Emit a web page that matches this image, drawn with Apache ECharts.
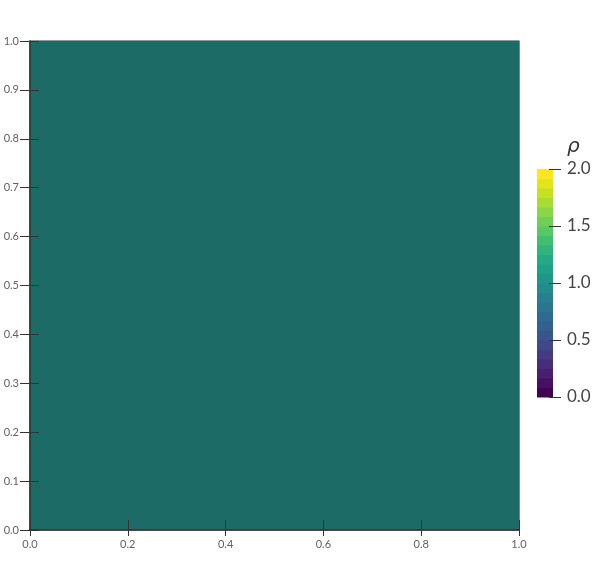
<!DOCTYPE html>
<html>
<head>
<meta charset="utf-8">
<script src="https://cdn.jsdelivr.net/npm/echarts@6/dist/echarts.min.js"></script>
<style>
    html, body { margin: 0; padding: 0; background: #fff; }
    #chart { width: 600px; height: 570px; }
</style>
</head>
<body>
<div id="chart"></div>
<script>
    // field: one uniform cell covering the unit square, rho = 1.0
    var cellX = [0, 1];
    var cellY = [0, 1];
    var cellRho = [1.0];

    // axis ticks
    var xTicks = [0, 0.2, 0.4, 0.6, 0.8, 1.0];
    var yTicks = [0, 0.1, 0.2, 0.3, 0.4, 0.5, 0.6, 0.7, 0.8, 0.9, 1.0];
    var barTicks = [0, 0.5, 1.0, 1.5, 2.0];

    // colour bar range and number of discrete bands
    var rhoRange = [0, 2];
    var rhoBands = 24;

    // viridis key colours
    var viridis = ['#440154', '#471365', '#482475', '#463480', '#414487', '#3b528b', '#355f8d',
        '#2f6c8e', '#2a788e', '#25848e', '#21918c', '#1e9c89', '#22a884', '#2fb47c', '#44bf70',
        '#5ec962', '#7ad151', '#9bd93c', '#bddf26', '#dfe318', '#fde725'];

    function hexRgb(h) {
        return [parseInt(h.substr(1, 2), 16), parseInt(h.substr(3, 2), 16), parseInt(h.substr(5, 2), 16)];
    }
    function viridisAt(t) {
        var p = t * (viridis.length - 1);
        var i = Math.min(Math.floor(p), viridis.length - 2);
        var f = p - i;
        var a = hexRgb(viridis[i]), b = hexRgb(viridis[i + 1]);
        var c = a.map(function (v, k) { return Math.round(v + (b[k] - v) * f); });
        return 'rgb(' + c.join(',') + ')';
    }

    var bands = [];
    for (var i = 0; i < rhoBands; i++) {
        var lo = rhoRange[0] + (rhoRange[1] - rhoRange[0]) * i / rhoBands;
        var hi = rhoRange[0] + (rhoRange[1] - rhoRange[0]) * (i + 1) / rhoBands;
        bands.push([lo, hi, i / (rhoBands - 1)]);
    }

    var fieldData = [[cellX[0], cellX[1], cellY[0], cellY[1], cellRho[0]]];

    var chart = echarts.init(document.getElementById('chart'));
    var labelFont = { color: '#606060', fontSize: 11, fontFamily: 'Lato' };
    var tickStyle = { color: '#333', width: 1 };

    var option = {
        animation: false,
        grid: [
            { left: 30, top: 41, width: 489, height: 489, show: true, borderColor: '#333', borderWidth: 1.2 },
            { left: 537, top: 169, width: 16, height: 228 }
        ],
        xAxis: [
            {
                gridIndex: 0, type: 'value', min: 0, max: 1, interval: 0.2, z: 5,
                axisLine: { show: true, onZero: false, lineStyle: { color: '#333', width: 1.5 } },
                axisTick: { show: true, inside: false, length: 6, lineStyle: tickStyle },
                axisLabel: Object.assign({ margin: 9, formatter: function (v) { return v.toFixed(1); } }, labelFont),
                splitLine: { show: false }
            },
            {
                gridIndex: 0, type: 'value', min: 0, max: 1, interval: 0.2, position: 'bottom', z: 5,
                axisLine: { show: false, onZero: false },
                axisTick: { show: true, inside: true, length: 10, lineStyle: tickStyle },
                axisLabel: { show: false }, splitLine: { show: false }
            },
            { gridIndex: 1, type: 'value', min: 0, max: 1, show: false }
        ],
        yAxis: [
            {
                gridIndex: 0, type: 'value', min: 0, max: 1, interval: 0.1, z: 5,
                axisLine: { show: true, onZero: false, lineStyle: { color: '#333', width: 1.5 } },
                axisTick: { show: true, inside: false, length: 10, lineStyle: tickStyle },
                axisLabel: Object.assign({ margin: 11, formatter: function (v) { return v.toFixed(1); } }, labelFont),
                splitLine: { show: false }
            },
            {
                gridIndex: 0, type: 'value', min: 0, max: 1, interval: 0.1, position: 'left', z: 5,
                axisLine: { show: false, onZero: false },
                axisTick: { show: true, inside: true, length: 9, lineStyle: tickStyle },
                axisLabel: { show: false }, splitLine: { show: false }
            },
            {
                gridIndex: 1, type: 'value', min: rhoRange[0], max: rhoRange[1], interval: 0.5, position: 'right', z: 5,
                name: 'ρ', nameLocation: 'end', nameGap: 12,
                nameTextStyle: { color: '#333', fontSize: 20, fontStyle: 'italic', fontFamily: 'DejaVu Sans', align: 'left', padding: [0, 0, 0, 14] },
                axisLine: { show: true, onZero: false, lineStyle: { color: 'rgba(0,0,0,0)' } },
                axisTick: { show: true, inside: false, length: 8, lineStyle: tickStyle },
                axisLabel: { margin: 14, color: '#444', fontSize: 17, fontFamily: 'Lato', formatter: function (v) { return v.toFixed(1); } },
                splitLine: { show: false }
            },
            {
                gridIndex: 1, type: 'value', min: rhoRange[0], max: rhoRange[1], interval: 0.5, position: 'right', z: 5,
                axisLine: { show: true, onZero: false, lineStyle: { color: 'rgba(0,0,0,0)' } },
                axisTick: { show: true, inside: true, length: 4, lineStyle: tickStyle },
                axisLabel: { show: false }, splitLine: { show: false }
            }
        ],
        series: [
            {
                type: 'custom', xAxisIndex: 0, yAxisIndex: 0, z: 1,
                data: fieldData,
                renderItem: function (params, api) {
                    var p0 = api.coord([api.value(0), api.value(3)]);
                    var p1 = api.coord([api.value(1), api.value(2)]);
                    return {
                        type: 'rect',
                        shape: { x: p0[0], y: p0[1], width: p1[0] - p0[0], height: p1[1] - p0[1] },
                        style: { fill: '#1d6b66' }
                    };
                }
            },
            {
                type: 'custom', xAxisIndex: 2, yAxisIndex: 2, z: 1,
                data: bands,
                renderItem: function (params, api) {
                    var top = api.coord([0, api.value(1)]);
                    var bot = api.coord([1, api.value(0)]);
                    return {
                        type: 'rect',
                        shape: { x: top[0], y: top[1], width: bot[0] - top[0], height: bot[1] - top[1] + 0.5 },
                        style: { fill: viridisAt(api.value(2)) }
                    };
                }
            }
        ]
    };

    chart.setOption(option);
</script>
</body>
</html>
